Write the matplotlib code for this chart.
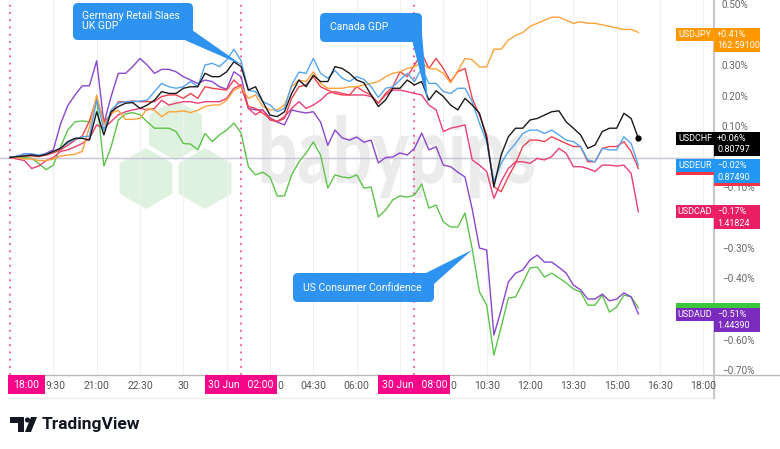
import matplotlib
matplotlib.use('Agg')
import matplotlib.pyplot as plt
import numpy as np
from matplotlib.patches import Rectangle, FancyBboxPatch, Polygon, RegularPolygon, PathPatch, Circle
from matplotlib.textpath import TextPath
from matplotlib.font_manager import FontProperties
from matplotlib.transforms import Affine2D

plt.rcParams['font.family'] = ['Roboto', 'DejaVu Sans']

# % change, 15 minute steps starting 29 Jun 18:00
usdjpy = [0, 0, -0.005, -0.005, -0.01, -0.01, -0.005, 0.005, 0.008, 0.011,
          0.02, 0.10, 0.205, 0.107, 0.145, 0.155, 0.125, 0.125, 0.128, 0.16,
          0.155, 0.134, 0.15, 0.15, 0.153, 0.147, 0.155, 0.167, 0.172, 0.172,
          0.188, 0.221, 0.232, 0.194, 0.205, 0.167, 0.156, 0.156, 0.172, 0.232,
          0.254, 0.249, 0.281, 0.243, 0.227, 0.227, 0.227, 0.232, 0.232, 0.238,
          0.243, 0.249, 0.265, 0.276, 0.281, 0.292, 0.298, 0.31, 0.292, 0.29,
          0.276, 0.245, 0.284, 0.325, 0.32, 0.297, 0.297, 0.355, 0.355, 0.385,
          0.40, 0.41, 0.43, 0.44, 0.45, 0.46, 0.46, 0.45, 0.44, 0.445,
          0.44, 0.44, 0.435, 0.43, 0.425, 0.42, 0.42, 0.41]
usdchf = [0, 0.003, 0.005, 0.008, 0.005, 0.01, 0.02, 0.03, 0.052, 0.063,
          0.063, 0.057, 0.15, 0.074, 0.15, 0.167, 0.178, 0.18, 0.161, 0.172,
          0.188, 0.216, 0.21, 0.21, 0.227, 0.232, 0.232, 0.276, 0.265, 0.265,
          0.281, 0.314, 0.298, 0.221, 0.232, 0.183, 0.139, 0.134, 0.15, 0.21,
          0.254, 0.232, 0.27, 0.249, 0.249, 0.298, 0.292, 0.276, 0.254, 0.245,
          0.205, 0.167, 0.189, 0.227, 0.227, 0.254, 0.238, 0.249, 0.188, 0.219,
          0.2, 0.172, 0.156, 0.194, 0.172, 0.145, 0.063, -0.096, 0.008, 0.068,
          0.096, 0.096, 0.123, 0.128, 0.139, 0.15, 0.153, 0.117, 0.096, 0.074,
          0.03, 0.041, 0.085, 0.096, 0.096, 0.145, 0.128, 0.063]
usdeur = [0, 0.005, 0.012, 0.012, 0.008, 0.012, 0.02, 0.03, 0.047, 0.06,
          0.068, 0.07, 0.188, 0.09, 0.156, 0.178, 0.183, 0.183, 0.185, 0.188,
          0.216, 0.243, 0.232, 0.227, 0.232, 0.249, 0.232, 0.303, 0.309, 0.298,
          0.32, 0.355, 0.317, 0.22, 0.216, 0.183, 0.172, 0.15, 0.161, 0.238,
          0.28, 0.276, 0.325, 0.276, 0.26, 0.285, 0.26, 0.249, 0.265, 0.256,
          0.232, 0.197, 0.227, 0.232, 0.254, 0.276, 0.249, 0.292, 0.243, 0.243,
          0.216, 0.21, 0.227, 0.227, 0.183, 0.112, 0.052, -0.079, -0.019, 0.019,
          0.046, 0.079, 0.09, 0.09, 0.079, 0.09, 0.074, 0.057, 0.052, 0.036,
          -0.008, -0.014, 0.03, 0.025, 0.025, 0.068, 0.046, -0.025]
usdgbp = [0, 0.003, 0.005, 0.005, 0.003, 0.008, 0.015, 0.025, 0.04, 0.057,
          0.07, 0.12, 0.194, 0.118, 0.14, 0.183, 0.183, 0.185, 0.183, 0.183,
          0.183, 0.2, 0.205, 0.205, 0.194, 0.21, 0.194, 0.232, 0.227, 0.224,
          0.221, 0.254, 0.232, 0.167, 0.161, 0.145, 0.128, 0.118, 0.128, 0.194,
          0.232, 0.238, 0.265, 0.232, 0.221, 0.21, 0.205, 0.205, 0.232, 0.216,
          0.205, 0.178, 0.21, 0.232, 0.281, 0.265, 0.303, 0.342, 0.292, 0.325,
          0.292, 0.249, 0.281, 0.292, 0.194, 0.139, 0.074, -0.096, -0.112, -0.063,
          -0.019, 0.036, 0.057, 0.057, 0.052, 0.068, 0.057, 0.046, 0.036, 0.036,
          -0.014, -0.014, 0.03, 0.036, 0.036, 0.052, 0.019, -0.036]
usdcad = [0, -0.005, -0.01, -0.036, -0.028, -0.01, 0.0, 0.02, 0.025, 0.035,
          0.046, 0.063, 0.107, 0.096, 0.118, 0.14, 0.15, 0.156, 0.161, 0.156,
          0.161, 0.188, 0.172, 0.178, 0.183, 0.183, 0.178, 0.183, 0.183, 0.183,
          0.194, 0.227, 0.238, 0.161, 0.14, 0.156, 0.123, 0.118, 0.134, 0.161,
          0.183, 0.161, 0.172, 0.188, 0.21, 0.216, 0.21, 0.205, 0.205, 0.205,
          0.2, 0.178, 0.205, 0.221, 0.221, 0.216, 0.21, 0.205, 0.172, 0.156,
          0.085, 0.096, 0.101, 0.107, -0.008, -0.025, -0.046, -0.134, -0.079, -0.036,
          -0.014, -0.014, -0.019, -0.003, -0.008, 0.003, 0.03, 0.014, -0.03, -0.03,
          -0.036, -0.046, -0.025, -0.025, -0.028, -0.025, -0.052, -0.178]
usdnzd = [0, 0, 0, -0.003, -0.02, -0.04, -0.025, 0.035, 0.09, 0.117,
          0.12, 0.117, 0.19, -0.028, 0.035, 0.123, 0.143, 0.147, 0.14, 0.117,
          0.096, 0.096, 0.096, 0.085, 0.046, 0.044, 0.025, 0.079, 0.052, 0.074,
          0.09, 0.113, 0.08, -0.03, -0.057, -0.048, -0.064, -0.126, -0.126, -0.057,
          -0.015, 0.015, 0.051, 0.008, -0.1, -0.057, -0.064, -0.067, -0.057, -0.1,
          -0.097, -0.195, -0.172, -0.139, -0.126, -0.13, -0.123, -0.087, -0.166, -0.156,
          -0.211, -0.228, -0.228, -0.182, -0.3, -0.441, -0.484, -0.648, -0.556, -0.461,
          -0.457, -0.411, -0.362, -0.359, -0.392, -0.379, -0.395, -0.411, -0.431, -0.441,
          -0.484, -0.484, -0.451, -0.507, -0.49, -0.451, -0.457, -0.493]
usdaud = [0, 0, 0.013, 0.01, 0.005, 0.014, 0.025, 0.11, 0.17, 0.205,
          0.235, 0.235, 0.317, 0.112, 0.2, 0.276, 0.276, 0.298, 0.325, 0.303,
          0.276, 0.289, 0.289, 0.281, 0.265, 0.254, 0.243, 0.254, 0.249, 0.232,
          0.224, 0.281, 0.265, 0.161, 0.156, 0.156, 0.13, 0.116, 0.107, 0.156,
          0.15, 0.146, 0.15, 0.116, 0.04, 0.09, 0.064, 0.057, 0.067, 0.05,
          0.057, -0.018, 0, 0.002, 0.015, 0.008, 0.03, 0.08, 0.025, 0.035,
          -0.025, -0.03, -0.048, -0.064, -0.17, -0.297, -0.303, -0.582, -0.5, -0.408,
          -0.379, -0.369, -0.336, -0.32, -0.343, -0.343, -0.36, -0.379, -0.418, -0.434,
          -0.464, -0.464, -0.448, -0.47, -0.464, -0.444, -0.457, -0.513]

hours = np.arange(len(usdjpy)) * 0.25

# time axis labels (hours after 29 Jun 18:00); some are partly hidden by the session tags
time_hours = [1.5, 3, 4.5, 6, 9, 10.5, 12, 15, 16.5, 18, 19.5, 21, 22.5, 24]
time_labels = ['19:30', '21:00', '22:30', '30', '03:00', '04:30', '06:00', '09:00',
               '10:30', '12:00', '13:30', '15:00', '16:30', '18:00']
session_tags = ['18:00', '30 Jun   02:00', '30 Jun   08:00']
session_hours = [0, 8, 14]
price_ticks = [0.5, 0.3, 0.2, 0.1, -0.1, -0.3, -0.4, -0.6, -0.7]

# name, colour, change, last price (first two are hidden under the others)
end_tags = [('USDGBP', '#F23645', '', ''),
            ('USDNZD', '#3CC63C', '', ''),
            ('USDJPY', '#FF9800', '+0.41%', '162.59100'),
            ('USDCHF', '#000000', '+0.06%', '0.80797'),
            ('USDEUR', '#2196F3', '\u22120.02%', '0.87490'),
            ('USDCAD', '#E91E63', '\u22120.17%', '1.41824'),
            ('USDAUD', '#7B2CBF', '\u22120.51%', '1.44390')]
tag_tops = [162, 303, 28, 132, 159, 205, 308]

W, H = 780, 449
fig = plt.figure(figsize=(W / 100, H / 100), dpi=100)

px_per_h = 28.89
x0_px = 10.0
y0_px = 157.5
px_per_pct = 305.0

# background layer: watermark
bg = fig.add_axes([0, 0, 1, 1], zorder=0)
bg.set_xlim(0, W)
bg.set_ylim(H, 0)
bg.axis('off')
for cx, cy in [(175.5, 130), (146, 178.5), (205, 178.5)]:
    bg.add_patch(RegularPolygon((cx, cy), 6, radius=30.5, orientation=0,
                                facecolor='#dff2df', edgecolor='none'))
tp = TextPath((0, 0), 'babypips', size=100, prop=FontProperties(family='Lato', weight='black'))
ext = tp.get_extents()
sx = (534 - 262) / ext.width
sy = (183 - 115) / ext.y1
tr = Affine2D().translate(-ext.x0, 0).scale(sx, -sy).translate(262, 183)
bg.add_patch(PathPatch(tr.transform_path(tp), facecolor='#ebebeb', edgecolor='none'))

# main chart
ax = fig.add_axes([0, (H - 375) / H, 714 / W, 375 / H], zorder=1)
ax.patch.set_visible(False)
xmin = -x0_px / px_per_h
xmax = (714 - x0_px) / px_per_h
ymax = y0_px / px_per_pct
ymin = (y0_px - 375) / px_per_pct

for h in np.arange(1.5, 24.1, 1.5):
    ax.axvline(h, color='#f0f0f2', lw=0.8, zorder=0)
ax.axhline(0, color='#c6c4d6', lw=1, zorder=1)
for h in session_hours:
    ax.axvline(h, color='#F7509A', lw=1.3, ls=(0, (1, 3)), zorder=1)

ax.plot(hours, usdnzd, color='#5DC44A', lw=1)
ax.plot(hours, usdaud, color='#8B45D0', lw=1)
ax.plot(hours, usdcad, color='#EC3F72', lw=1)
ax.plot(hours, usdgbp, color='#F2434F', lw=1)
ax.plot(hours, usdjpy, color='#FFA239', lw=1)
ax.plot(hours, usdeur, color='#55A6F2', lw=1)
ax.plot(hours, usdchf, color='#1a1a1a', lw=1)
ax.plot(hours[-1], usdchf[-1], 'o', color='#000000', ms=3.5)
ax.set_xlim(xmin, xmax)
ax.set_ylim(ymin, ymax)
ax.axis('off')

# overlay: axes, tags, callouts, logo
ov = fig.add_axes([0, 0, 1, 1], zorder=2)
ov.set_xlim(0, W)
ov.set_ylim(H, 0)
ov.axis('off')
ov.patch.set_visible(False)

ov.plot([8, W], [375, 375], color='#b9b9b9', lw=1)
ov.plot([8, 714], [398, 398], color='#ececec', lw=1)
ov.plot([714, 714], [0, 398], color='#c8c8c8', lw=1.5)

for h, lab in zip(time_hours, time_labels):
    xc = x0_px + h * px_per_h
    if lab == '19:30':
        # first digit hidden by the 18:00 tag
        ov.text(xc + 12, 386, lab[1:], fontsize=7.5, color='#555555', ha='right', va='center')
    elif lab in ('03:00', '09:00'):
        # only the last digit shows beside the session tag
        ov.text(xc + 7, 386, lab[-1], fontsize=7.5, color='#555555', ha='left', va='center')
    else:
        ov.text(xc, 386, lab, fontsize=7.5, color='#555555', ha='center', va='center')

for v in price_ticks:
    s = ('%.2f%%' % v).replace('-', '\u2212')
    ov.text(722, y0_px - v * px_per_pct, s, fontsize=7.2, color='#666666',
            ha='left', va='center')

for h, txt in zip(session_hours, session_tags):
    xc = x0_px + h * px_per_h
    wbox = 37 if h == 0 else 72
    x_l = max(8, xc - wbox / 2)
    ov.add_patch(Rectangle((x_l, 375), wbox, 19, facecolor='#F7068A', edgecolor='none', zorder=5))
    ov.text(x_l + wbox / 2, 385, txt, fontsize=7.5, color='white', ha='center', va='center', zorder=6)

for k, ((name, col, chg, last), top) in enumerate(zip(end_tags, tag_tops)):
    z = 10 + 2 * k
    ov.add_patch(Rectangle((676, top), 38, 13, facecolor=col, edgecolor='none', zorder=z))
    ov.add_patch(Rectangle((714, top), 46, 24, facecolor=col, edgecolor='none', zorder=z))
    if chg:
        ov.text(695, top + 6.5, name, fontsize=6.5, color='white', ha='center', va='center', zorder=z + 1)
        ov.text(717, top + 6.5, chg, fontsize=6.5, color='white', ha='left', va='center', zorder=z + 1)
        ov.text(717, top + 18, last, fontsize=6.5, color='white', ha='left', va='center', zorder=z + 1)

callout_col = '#2E93F0'
callouts = [((73, 3, 120, 37), [(180, 38), (192, 30), (242, 65)], 'Germany Retail Slaes\nUK GDP', 82, 21),
            ((320, 13, 102, 29), [(412, 40), (422, 34), (428, 103)], 'Canada GDP', 330, 27.5),
            ((293, 273, 141, 29), [(422, 275), (434, 284), (472, 250)], 'US Consumer Confidence', 303, 288)]
for (bx, by, bw, bh), wedge, txt, tx, ty in callouts:
    ov.add_patch(FancyBboxPatch((bx, by), bw, bh, boxstyle='round,pad=0,rounding_size=5',
                                facecolor=callout_col, edgecolor='none', zorder=30))
    ov.add_patch(Polygon(wedge, closed=True, facecolor=callout_col, edgecolor='none', zorder=30))
    ov.text(tx, ty, txt, fontsize=7.5, color='white', ha='left', va='center', linespacing=1.1, zorder=31)

# TradingView logo
ov.add_patch(Polygon([(10, 417), (24, 417), (24, 432), (18, 432), (18, 423), (10, 423)],
                     facecolor='#131722', edgecolor='none'))
ov.add_patch(Circle((27.5, 420), 2.6, facecolor='#131722', edgecolor='none'))
ov.add_patch(Polygon([(25, 432), (31, 417), (37, 417), (31, 432)], facecolor='#131722', edgecolor='none'))
ov.text(42, 425, 'TradingView', fontsize=12.5, color='#131722', ha='left', va='center',
        fontweight='bold')

fig.savefig('out.png', dpi=100)
